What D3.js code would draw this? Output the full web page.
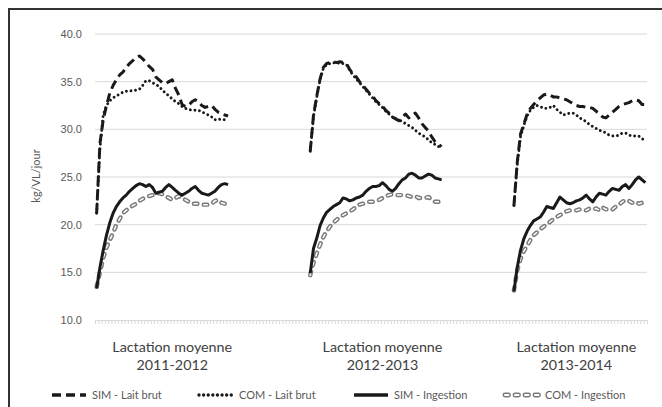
<!DOCTYPE html>
<html>
<head>
<meta charset="utf-8">
<script src="https://cdn.jsdelivr.net/npm/d3@7"></script>
<style>
  body { margin: 0; background: #fff; }
  svg { display: block; font-family: Lato, "Open Sans", sans-serif; }
</style>
</head>
<body>
<div id="chart"></div>
<script>
// weekly values, one block of 41 weeks per lactation
var nCategories = 168;
var groupStart = [0, 65, 127];
var groupLabels = [["Lactation moyenne", "2011-2012"], ["Lactation moyenne", "2012-2013"], ["Lactation moyenne", "2013-2014"]];
var labelCategory = [23, 87, 146];
var yTicks = [10, 15, 20, 25, 30, 35, 40];

var simLait = [
  [21.2, 28.5, 31.0, 32.5, 33.8, 34.6, 35.2, 35.7, 36.0, 36.5, 36.9, 37.2, 37.5, 37.7, 37.4, 37.0, 36.6, 36.3, 35.5, 35.2, 34.9,
   34.8, 35.0, 35.2, 34.3, 33.6, 32.6, 32.4, 32.5, 32.9, 33.1, 32.9, 32.5, 32.3, 32.4, 32.5, 32.1, 31.8, 31.6, 31.5, 31.4],
  [27.7, 31.5, 33.5, 35.3, 36.5, 36.9, 37.0, 37.1, 37.0, 37.1, 37.0, 36.9, 36.3, 35.8, 35.5, 35.0, 34.6, 34.2, 33.8, 33.5, 33.0,
   32.7, 32.4, 32.0, 31.7, 31.3, 31.1, 30.9, 31.3, 31.6, 31.2, 31.5, 31.7, 31.2, 30.6, 30.2, 29.8, 29.2, 28.7, 28.4, 28.2],
  [22.0, 26.5, 29.5, 30.5, 31.6, 32.2, 32.6, 33.0, 33.3, 33.6, 33.7, 33.6, 33.4, 33.4, 33.3, 33.2, 33.1, 32.9, 32.7, 32.5, 32.4,
   32.4, 32.3, 32.3, 32.2, 31.9, 31.6, 31.3, 31.2, 31.5, 31.8, 32.1, 32.4, 32.6, 32.7, 32.8, 33.0, 33.1, 33.0, 32.6, 32.6]
];
var comLait = [
  [21.2, 28.0, 31.5, 32.5, 33.0, 33.3, 33.5, 33.7, 33.9, 34.0, 34.0, 34.1, 34.1, 34.2, 34.6, 35.1, 35.1, 34.9, 34.7, 34.5, 34.1,
   33.8, 33.5, 33.2, 32.9, 32.7, 32.4, 32.2, 32.1, 32.0, 32.0, 32.0, 31.8, 31.7, 31.5, 31.3, 31.0, 31.1, 31.0, 31.0, 30.8],
  [27.7, 31.3, 33.4, 35.2, 36.4, 36.8, 36.9, 37.0, 36.9, 37.0, 36.9, 36.8, 36.2, 35.7, 35.3, 34.9, 34.5, 34.1, 33.7, 33.3, 32.9,
   32.6, 32.3, 31.9, 31.6, 31.3, 31.1, 31.0, 30.8, 30.6, 30.4, 30.2, 29.9, 29.6, 29.4, 29.2, 28.9, 28.6, 28.4, 28.2, 28.1],
  [22.0, 26.3, 29.2, 30.4, 31.4, 32.0, 32.3, 32.5, 32.4, 32.2, 32.2, 32.3, 32.5, 32.1, 31.8, 31.5, 31.6, 31.7, 31.7, 31.5, 31.2,
   31.0, 30.8, 30.5, 30.3, 30.1, 29.9, 29.8, 29.6, 29.4, 29.3, 29.3, 29.4, 29.6, 29.6, 29.4, 29.3, 29.3, 29.3, 29.0, 28.9]
];
var simIngestion = [
  [13.3, 15.5, 17.3, 18.9, 20.2, 21.2, 21.9, 22.4, 22.8, 23.1, 23.5, 23.8, 24.1, 24.3, 24.2, 24.0, 24.2, 23.9, 23.3, 23.4, 23.5,
   23.9, 24.2, 23.9, 23.6, 23.3, 23.1, 23.3, 23.5, 23.8, 24.0, 23.6, 23.3, 23.2, 23.1, 23.3, 23.5, 23.9, 24.2, 24.3, 24.2],
  [14.9, 17.5, 18.6, 19.9, 20.7, 21.3, 21.6, 21.9, 22.1, 22.3, 22.8, 22.7, 22.5, 22.6, 22.8, 22.9, 23.1, 23.5, 23.8, 24.0, 24.0,
   24.1, 24.4, 24.1, 23.7, 23.5, 23.8, 24.3, 24.7, 24.9, 25.3, 25.4, 25.2, 24.9, 24.9, 25.1, 25.3, 25.2, 24.9, 24.8, 24.7],
  [13.0, 15.5, 17.3, 18.5, 19.3, 19.9, 20.4, 20.6, 20.8, 21.3, 21.9, 21.8, 21.7, 22.3, 22.9, 22.6, 22.3, 22.2, 22.3, 22.5, 22.6,
   22.8, 23.1, 22.7, 22.4, 22.9, 23.3, 23.2, 23.1, 23.5, 23.8, 23.7, 23.6, 24.0, 24.2, 23.8, 24.2, 24.7, 25.0, 24.7, 24.4]
];
var comIngestion = [
  [13.5, 15.0, 16.5, 17.6, 18.4, 19.1, 20.0, 20.6, 21.2, 21.5, 21.8, 22.0, 22.2, 22.5, 22.7, 22.9, 23.0, 23.1, 23.2, 23.3, 23.2,
   23.0, 22.8, 22.6, 22.8, 23.0, 22.8, 22.6, 22.4, 22.2, 22.2, 22.2, 22.1, 22.1, 22.1, 22.2, 22.5, 22.6, 22.3, 22.2, 22.2],
  [14.7, 16.0, 17.0, 17.9, 18.7, 19.3, 19.8, 20.2, 20.5, 20.8, 21.0, 21.2, 21.4, 21.6, 21.9, 22.1, 22.2, 22.3, 22.4, 22.4, 22.5,
   22.6, 22.8, 23.0, 23.1, 23.2, 23.1, 23.1, 23.1, 23.1, 23.0, 22.9, 23.0, 22.8, 22.8, 22.8, 22.9, 22.6, 22.4, 22.4, 22.5],
  [13.1, 15.2, 16.4, 17.2, 17.8, 18.4, 18.9, 19.2, 19.5, 19.8, 20.0, 20.3, 20.6, 20.8, 21.0, 21.2, 21.4, 21.5, 21.5, 21.5, 21.6,
   21.5, 21.5, 21.7, 21.6, 21.7, 21.5, 21.8, 21.6, 21.7, 21.6, 21.9, 22.1, 22.4, 22.6, 22.5, 22.3, 22.4, 22.2, 22.3, 22.2]
];

var seriesNames = ["SIM - Lait brut", "COM - Lait brut", "SIM - Ingestion", "COM - Ingestion"];

var width = 662, height = 407;
var plot = {left: 95, right: 647, top: 34, bottom: 320};

var svg = d3.select("#chart")
  .append("svg")
    .attr("width", width)
    .attr("height", height);

// outer frame (right and bottom edges fall outside the picture)
svg.append("rect")
  .attr("x", 9).attr("y", 9)
  .attr("width", 670).attr("height", 420)
  .attr("fill", "none")
  .attr("stroke", "#333")
  .attr("stroke-width", 2);

var x = d3.scaleLinear().domain([0, nCategories]).range([plot.left, plot.right]);
var y = d3.scaleLinear().domain([10, 40]).range([plot.bottom, plot.top]);

// gridlines
svg.append("g")
  .selectAll("line")
  .data(yTicks.filter(function(d) { return d > 10; }))
  .enter().append("line")
    .attr("x1", plot.left).attr("x2", plot.right)
    .attr("y1", function(d) { return y(d); })
    .attr("y2", function(d) { return y(d); })
    .attr("stroke", "#d9d9d9")
    .attr("stroke-width", 1);

// y axis labels
var yAxis = svg.append("g")
  .attr("transform", "translate(" + plot.left + ",0)")
  .call(d3.axisLeft(y).tickValues(yTicks).tickFormat(d3.format(".1f")).tickSize(0).tickPadding(13));
yAxis.select(".domain").remove();
yAxis.selectAll("text")
  .attr("fill", "#595959")
  .style("font-size", "11px");

// x axis with a tick between every category
var xAxis = svg.append("g")
  .attr("transform", "translate(0," + plot.bottom + ")")
  .call(d3.axisBottom(x).tickValues(d3.range(nCategories + 1)).tickFormat("").tickSize(4));
xAxis.select(".domain").attr("stroke", "#d9d9d9");
xAxis.selectAll(".tick line").attr("stroke", "#d9d9d9");

// category labels
var catLabel = svg.append("g")
  .selectAll("text")
  .data(groupLabels)
  .enter().append("text")
    .attr("x", function(d, i) { return x(labelCategory[i] + 0.5); })
    .attr("y", 352)
    .attr("text-anchor", "middle")
    .attr("fill", "#404040")
    .style("font-size", "14.3px");
catLabel.append("tspan")
  .attr("x", function(d, i) { return x(labelCategory[i] + 0.5); })
  .text(function(d) { return d[0]; });
catLabel.append("tspan")
  .attr("x", function(d, i) { return x(labelCategory[i] + 0.5); })
  .attr("dy", 18)
  .text(function(d) { return d[1]; });

// y title
svg.append("text")
  .attr("transform", "translate(40,176) rotate(-90)")
  .attr("text-anchor", "middle")
  .attr("fill", "#595959")
  .style("font-size", "11px")
  .text("kg/VL/jour");

// line styles
var styles = [
  [{stroke: "#1a1a1a", width: 3, dash: "9,5", cap: "butt"}],
  [{stroke: "#1a1a1a", width: 2.9, dash: "0.01,4.6", cap: "round"}],
  [{stroke: "#1a1a1a", width: 3, dash: null, cap: "butt"}],
  [{stroke: "#7a7a7a", width: 4.4, dash: "3.5,6.5", cap: "round"},
   {stroke: "#ffffff", width: 1.5, dash: "3.5,6.5", cap: "round"}]
];
var seriesData = [simLait, comLait, simIngestion, comIngestion];

var line = d3.line()
  .x(function(d) { return x(d.cat + 0.5); })
  .y(function(d) { return y(d.v); });

function toPoints(values, g) {
  return values.map(function(v, i) { return {cat: groupStart[g] + i, v: v}; });
}

// draw in reverse so SIM lines stay on top
[3, 1, 2, 0].forEach(function(s) {
  seriesData[s].forEach(function(values, g) {
    styles[s].forEach(function(st) {
      svg.append("path")
        .datum(toPoints(values, g))
        .attr("d", line)
        .attr("fill", "none")
        .attr("stroke", st.stroke)
        .attr("stroke-width", st.width)
        .attr("stroke-dasharray", st.dash)
        .attr("stroke-linecap", st.cap)
        .attr("stroke-linejoin", "round");
    });
  });
});

// legend
var legendX = [50, 197, 352, 503];
var legendY = 395;
var legend = svg.append("g")
  .selectAll("g")
  .data(seriesNames)
  .enter().append("g")
    .attr("transform", function(d, i) { return "translate(" + legendX[i] + "," + legendY + ")"; });
legend.each(function(d, i) {
  var g = d3.select(this);
  styles[i].forEach(function(st) {
    g.append("line")
      .attr("x1", 2).attr("x2", 36)
      .attr("stroke", st.stroke)
      .attr("stroke-width", st.width + 0.5)
      .attr("stroke-dasharray", st.dash)
      .attr("stroke-linecap", st.cap);
  });
  g.append("text")
    .attr("x", 42)
    .attr("dy", "0.35em")
    .attr("fill", "#595959")
    .style("font-size", "11px")
    .text(d);
});
</script>
</body>
</html>
